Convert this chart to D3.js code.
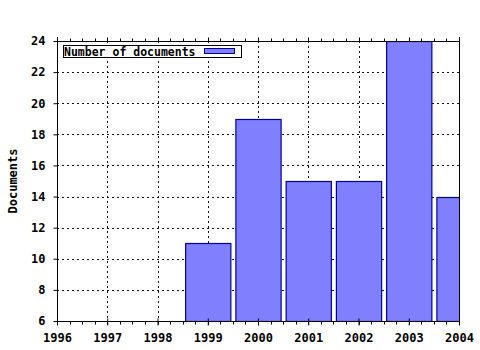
<!DOCTYPE html>
<html>
<head>
<meta charset="utf-8">
<script src="https://cdn.jsdelivr.net/npm/d3@7"></script>
<style>
  body { margin: 0; background: #fff; }
  text { font-family: "DejaVu Sans Mono", monospace; font-weight: bold; font-size: 11.5px; fill: #000; }
</style>
</head>
<body>
<svg id="barChart"></svg>
<script>
// data
var years = [1999, 2000, 2001, 2002, 2003, 2004];
var documents = [11, 19, 15, 15, 24, 14];
var xTicks = [1996, 1997, 1998, 1999, 2000, 2001, 2002, 2003, 2004];
var yTicks = [6, 8, 10, 12, 14, 16, 18, 20, 22, 24];
var seriesName = "Number of documents";

// plot frame (window.top is reserved, so prefixed names)
var width = 480,
    height = 350,
    pLeft = 57, pRight = 459, pTop = 41, pBottom = 321;

var svg = d3.select("#barChart")
    .attr("width", width)
    .attr("height", height);

var x = d3.scaleLinear().domain([1996, 2004]).range([pLeft, pRight]);
var y = d3.scaleLinear().domain([6, 24]).range([pBottom, pTop]);

// clip so the last bar stops at the frame
svg.append("clipPath").attr("id", "plot")
  .append("rect")
    .attr("x", pLeft).attr("y", pTop)
    .attr("width", pRight - pLeft).attr("height", pBottom - pTop);

// dotted grid
var grid = svg.append("g")
    .attr("stroke", "#111")
    .attr("stroke-width", 1)
    .attr("stroke-dasharray", "2,3");

grid.selectAll(".vg")
    .data(xTicks.slice(1, -1))
    .enter().append("line")
    .attr("x1", d => Math.round(x(d)) + 0.5).attr("x2", d => Math.round(x(d)) + 0.5)
    .attr("y1", pTop).attr("y2", pBottom);

grid.selectAll(".hg")
    .data(yTicks.slice(1, -1))
    .enter().append("line")
    .attr("x1", pLeft).attr("x2", pRight)
    .attr("y1", d => Math.round(y(d)) + 0.5).attr("y2", d => Math.round(y(d)) + 0.5);

// bars
var barW = (x(1) - x(0)) * 0.9;
svg.append("g")
    .attr("clip-path", "url(#plot)")
  .selectAll("rect")
    .data(years)
    .enter().append("rect")
    .attr("x", d => x(d) - barW / 2 + 0.5)
    .attr("y", (d, i) => Math.round(y(documents[i])) + 0.5)
    .attr("width", barW)
    .attr("height", (d, i) => pBottom - Math.round(y(documents[i])))
    .attr("fill", "#8080ff")
    .attr("stroke", "#000099")
    .attr("stroke-width", 1.2);

// minor ticks every quarter year
var minor = d3.range(1996, 2004.01, 0.25);

var xAxis = d3.axisBottom(x)
    .tickValues(xTicks)
    .tickFormat(d3.format("d"))
    .tickSize(4)
    .tickPadding(8);

var gx = svg.append("g")
    .attr("transform", "translate(0," + (pBottom + 0.5) + ")")
    .call(xAxis);
gx.select(".domain").attr("d", "M" + pLeft + ",0H" + pRight);
gx.selectAll(".tick line").attr("y1", -3);

gx.selectAll(".minor")
    .data(minor)
    .enter().append("line")
    .attr("x1", d => Math.round(x(d)) + 0.5).attr("x2", d => Math.round(x(d)) + 0.5)
    .attr("y1", 0).attr("y2", 3)
    .attr("stroke", "#000");

// top edge with ticks pointing up
var gt = svg.append("g")
    .attr("transform", "translate(0," + (pTop + 0.5) + ")");
gt.append("line")
    .attr("x1", pLeft).attr("x2", pRight)
    .attr("stroke", "#000");
gt.selectAll(".minor")
    .data(minor)
    .enter().append("line")
    .attr("x1", d => Math.round(x(d)) + 0.5).attr("x2", d => Math.round(x(d)) + 0.5)
    .attr("y1", 0).attr("y2", d => xTicks.indexOf(d) >= 0 ? -4 : -3)
    .attr("stroke", "#000");

// right edge
svg.append("line")
    .attr("x1", pRight + 0.5).attr("x2", pRight + 0.5)
    .attr("y1", pTop - 4).attr("y2", pBottom + 4)
    .attr("stroke", "#000");

var yAxis = d3.axisLeft(y)
    .tickValues(yTicks)
    .tickSize(4)
    .tickPadding(8);

var gy = svg.append("g")
    .attr("transform", "translate(" + (pLeft + 0.5) + ",0)")
    .call(yAxis);
gy.select(".domain").attr("d", "M0," + (pTop - 4) + "V" + (pBottom + 4));

svg.selectAll(".tick text")
    .style("font-family", "'DejaVu Sans Mono', monospace")
    .style("font-weight", "bold")
    .style("font-size", "12px");

// y title
svg.append("text")
    .attr("transform", "translate(17," + ((pTop + pBottom) / 2) + ") rotate(-90)")
    .style("text-anchor", "middle")
    .style("font-size", "12px")
    .text("Documents");

// legend
var legend = svg.append("g");
legend.append("rect")
    .attr("x", 63.5).attr("y", 45.5)
    .attr("width", 178).attr("height", 12)
    .attr("fill", "#fff")
    .attr("stroke", "#000");
legend.append("text")
    .attr("x", 64)
    .attr("y", 55.5)
    .text(seriesName);
legend.append("rect")
    .attr("x", 204.5).attr("y", 48.5)
    .attr("width", 30).attr("height", 5)
    .attr("fill", "#8080ff")
    .attr("stroke", "#000099");
</script>
</body>
</html>
